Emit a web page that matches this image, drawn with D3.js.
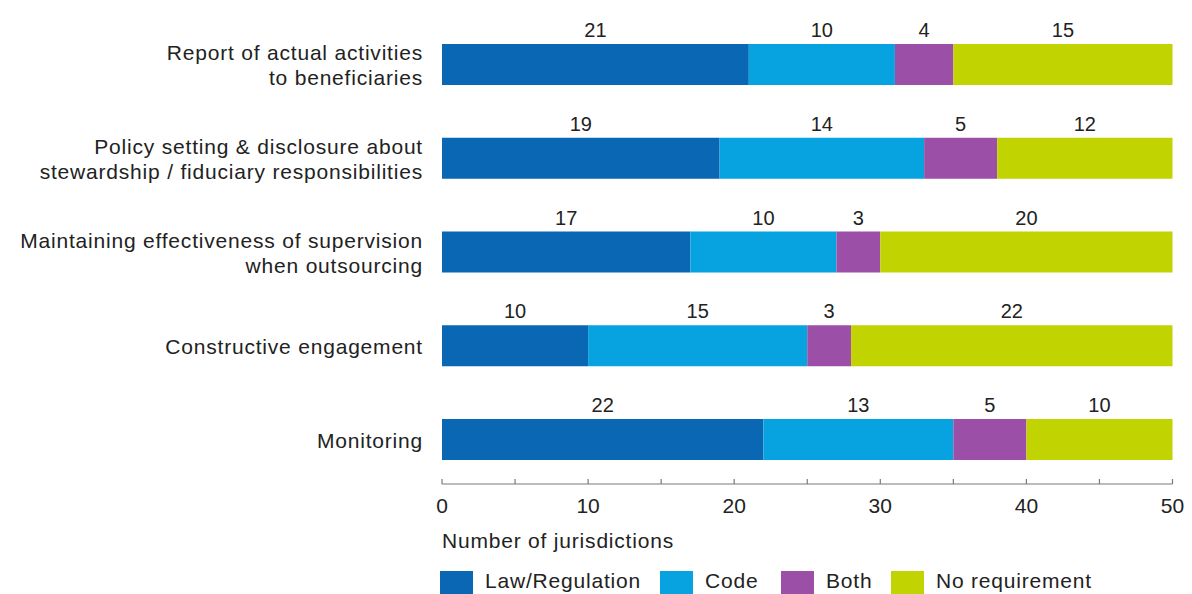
<!DOCTYPE html>
<html>
<head>
<meta charset="utf-8">
<script src="https://cdn.jsdelivr.net/npm/d3@7"></script>
<style>
  html, body { margin: 0; padding: 0; background: #ffffff; }
  svg { display: block; }
  text { font-family: "Liberation Sans", Arial, sans-serif; fill: #222222; letter-spacing: 0.8px; }
</style>
</head>
<body>
<svg id="chart" width="1192" height="594"></svg>
<script>
const categories = [
  ["Report of actual activities", "to beneficiaries"],
  ["Policy setting & disclosure about", "stewardship / fiduciary responsibilities"],
  ["Maintaining effectiveness of supervision", "when outsourcing"],
  ["Constructive engagement"],
  ["Monitoring"]
];
const seriesNames = ["Law/Regulation", "Code", "Both", "No requirement"];
const lawRegulation = [21, 19, 17, 10, 22];
const code = [10, 14, 10, 15, 13];
const both = [4, 5, 3, 3, 5];
const noRequirement = [15, 12, 20, 22, 10];
const xTicks = [0, 10, 20, 30, 40, 50];
const xMinorTicks = [0, 5, 10, 15, 20, 25, 30, 35, 40, 45, 50];
const xAxisTitle = "Number of jurisdictions";
const colors = ["#0a67b4", "#07a2e0", "#9c4fa7", "#c1d300"];

const svg = d3.select("#chart");
const keys = categories.map((c, i) => i);
const rows = keys.map(i => ({
  idx: i,
  [seriesNames[0]]: lawRegulation[i],
  [seriesNames[1]]: code[i],
  [seriesNames[2]]: both[i],
  [seriesNames[3]]: noRequirement[i]
}));
const stacked = d3.stack().keys(seriesNames)(rows);

const x = d3.scaleLinear().domain([0, 50]).range([442, 1172.5]);
const step = 93.75, barH = 41;
const y = d3.scaleBand().domain(keys)
  .range([44 - (step - barH) / 2, 44 - (step - barH) / 2 + step * keys.length])
  .paddingInner((step - barH) / step)
  .paddingOuter((step - barH) / step / 2);

const color = d3.scaleOrdinal().domain(seriesNames).range(colors);

// bars
const layer = svg.append("g").selectAll("g").data(stacked).join("g")
  .attr("fill", d => color(d.key));
layer.selectAll("rect").data(d => d).join("rect")
  .attr("x", d => x(d[0]))
  .attr("y", d => y(d.data.idx))
  .attr("width", d => x(d[1]) - x(d[0]))
  .attr("height", y.bandwidth());

// value labels
const lbl = svg.append("g");
stacked.forEach(s => {
  s.forEach(d => {
    lbl.append("text")
      .attr("x", (x(d[0]) + x(d[1])) / 2)
      .attr("y", y(d.data.idx) - 7)
      .attr("text-anchor", "middle")
      .attr("font-size", 20)
      .style("letter-spacing", "0px")
      .text(d[1] - d[0]);
  });
});

// category labels
const catG = svg.append("g");
categories.forEach((lines, i) => {
  const c = y(i) + y.bandwidth() / 2;
  const L = 25;
  const t = catG.append("text")
    .attr("text-anchor", "end")
    .attr("font-size", 21);
  if (lines.length === 1) {
    t.append("tspan").attr("x", 423).attr("y", c + 8).text(lines[0]);
  } else {
    t.append("tspan").attr("x", 423).attr("y", c - L / 2 + 8).text(lines[0]);
    t.append("tspan").attr("x", 423).attr("y", c + L / 2 + 8).text(lines[1]);
  }
});

// x axis
const axisY = 484;
const axG = svg.append("g").attr("transform", `translate(0,${axisY})`);
axG.append("line")
  .attr("x1", x(0)).attr("x2", x(50))
  .attr("y1", 0).attr("y2", 0)
  .attr("stroke", "#7a7a7a").attr("stroke-width", 1.2);
axG.selectAll("line.tick").data(xMinorTicks).join("line")
  .attr("class", "tick")
  .attr("x1", d => x(d)).attr("x2", d => x(d))
  .attr("y1", 0).attr("y2", -5)
  .attr("stroke", "#7a7a7a").attr("stroke-width", 1.2);
axG.selectAll("text.tl").data(xTicks).join("text")
  .attr("class", "tl")
  .attr("x", d => x(d))
  .attr("y", 29)
  .attr("text-anchor", "middle")
  .attr("font-size", 21)
  .style("letter-spacing", "0px")
  .text(d => d);

svg.append("text")
  .attr("x", 442).attr("y", 548)
  .attr("font-size", 21)
  .text(xAxisTitle);

// legend
const legendBoxX = [440, 660, 781, 891];
const leg = svg.append("g");
seriesNames.forEach((n, i) => {
  leg.append("rect")
    .attr("x", legendBoxX[i]).attr("y", 571)
    .attr("width", 33).attr("height", 23)
    .attr("fill", color(n));
  leg.append("text")
    .attr("x", legendBoxX[i] + 45).attr("y", 588)
    .attr("font-size", 21)
    .text(n);
});
</script>
</body>
</html>
